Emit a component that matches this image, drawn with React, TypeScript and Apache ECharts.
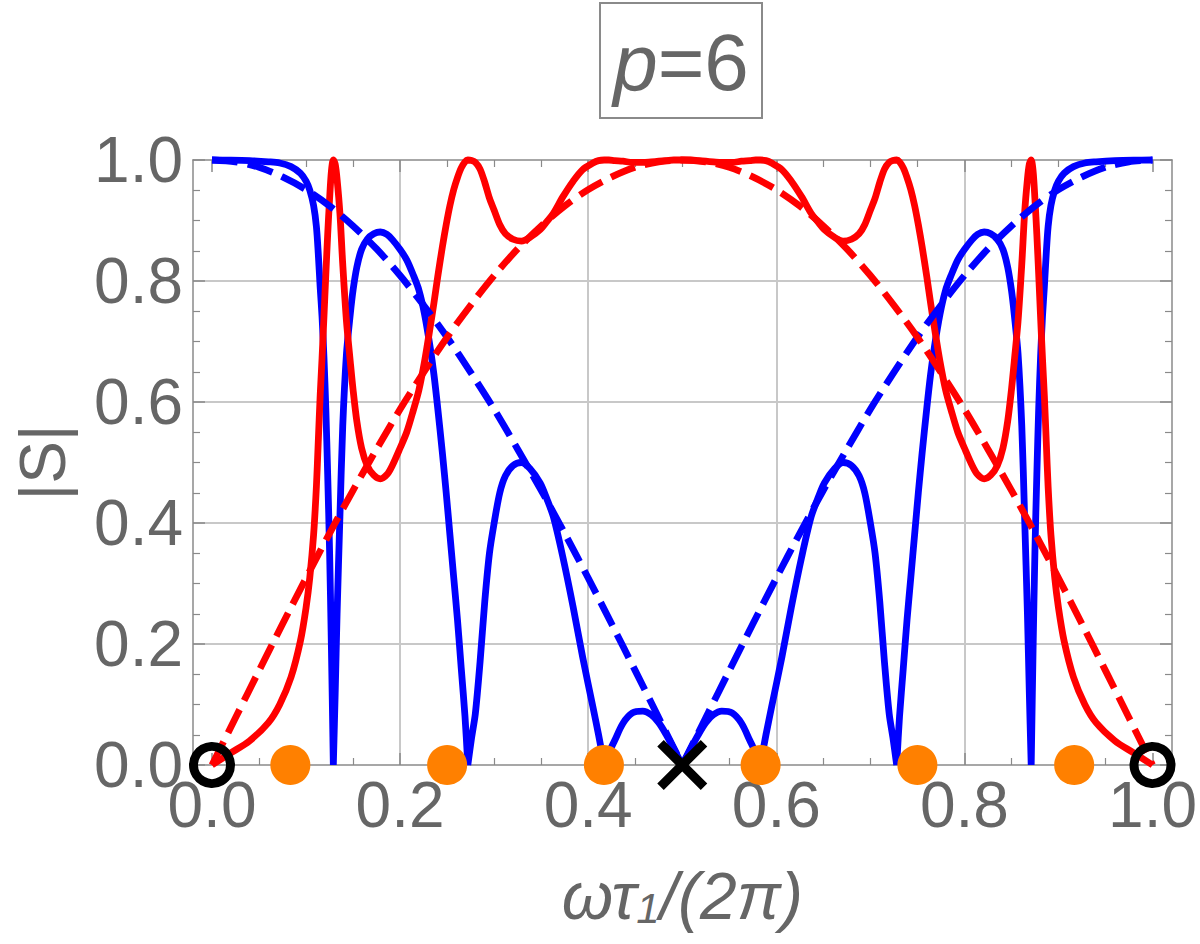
import React, { useEffect, useRef } from "react";
import * as echarts from "echarts";

// ---- data ----
const xSolid = [
  0, 0.02, 0.04, 0.06, 0.072, 0.084, 0.094, 0.1, 0.104, 0.108,
  0.111, 0.113, 0.115, 0.117, 0.119, 0.121, 0.123, 0.125, 0.127, 0.129,
  0.131, 0.133, 0.136, 0.139, 0.143, 0.147, 0.15, 0.154, 0.159, 0.165,
  0.172, 0.179, 0.186, 0.192, 0.2, 0.207, 0.214, 0.22, 0.226, 0.232,
  0.236, 0.24, 0.245, 0.249, 0.253, 0.257, 0.261, 0.265, 0.269, 0.272,
  0.276, 0.28, 0.285, 0.29, 0.295, 0.3, 0.306, 0.312, 0.32, 0.329,
  0.338, 0.349, 0.356, 0.363, 0.373, 0.384, 0.394, 0.405, 0.411, 0.417,
  0.422, 0.428, 0.437, 0.447, 0.458, 0.467, 0.475, 0.483, 0.491, 0.5,
  0.509, 0.517, 0.525, 0.533, 0.542, 0.553, 0.563, 0.572, 0.578, 0.583,
  0.589, 0.595, 0.606, 0.616, 0.627, 0.637, 0.644, 0.651, 0.662, 0.671,
  0.68, 0.688, 0.694, 0.7, 0.705, 0.71, 0.715, 0.72, 0.724, 0.728,
  0.731, 0.735, 0.739, 0.743, 0.747, 0.751, 0.755, 0.76, 0.764, 0.768,
  0.774, 0.78, 0.786, 0.793, 0.8, 0.808, 0.814, 0.821, 0.828, 0.835,
  0.841, 0.846, 0.85, 0.853, 0.857, 0.861, 0.864, 0.867, 0.869, 0.871,
  0.873, 0.875, 0.877, 0.879, 0.881, 0.883, 0.885, 0.887, 0.889, 0.892,
  0.896, 0.9, 0.906, 0.916, 0.928, 0.94, 0.96, 0.98, 1,
];

const blueSolid = [
  1, 0.9998, 0.999, 0.997, 0.995, 0.989, 0.978, 0.965, 0.95, 0.925,
  0.89, 0.845, 0.79, 0.741, 0.675, 0.59, 0.48, 0.355, 0.19, 0,
  0.12, 0.25, 0.41, 0.56, 0.68, 0.745, 0.785, 0.823, 0.852, 0.869,
  0.878, 0.881, 0.877, 0.868, 0.852, 0.835, 0.81, 0.785, 0.745, 0.69,
  0.645, 0.59, 0.515, 0.45, 0.38, 0.31, 0.24, 0.16, 0.08, 0,
  0.045, 0.085, 0.17, 0.27, 0.35, 0.4, 0.45, 0.478, 0.495, 0.5,
  0.49, 0.466, 0.44, 0.41, 0.344, 0.261, 0.179, 0.096, 0.05, 0,
  0.02, 0.04, 0.069, 0.086, 0.089, 0.083, 0.07, 0.05, 0.027, 0,
  0.027, 0.05, 0.07, 0.083, 0.089, 0.086, 0.069, 0.04, 0.02, 0,
  0.05, 0.096, 0.179, 0.261, 0.344, 0.41, 0.44, 0.466, 0.49, 0.5,
  0.495, 0.478, 0.45, 0.4, 0.35, 0.27, 0.17, 0.085, 0.045, 0,
  0.08, 0.16, 0.24, 0.31, 0.38, 0.45, 0.515, 0.59, 0.645, 0.69,
  0.745, 0.785, 0.81, 0.835, 0.852, 0.868, 0.877, 0.881, 0.878, 0.869,
  0.852, 0.823, 0.785, 0.745, 0.68, 0.56, 0.41, 0.25, 0.12, 0,
  0.19, 0.355, 0.48, 0.59, 0.675, 0.741, 0.79, 0.845, 0.89, 0.925,
  0.95, 0.965, 0.978, 0.989, 0.995, 0.997, 0.999, 0.9998, 1,
];

const redSolid = [
  0, 0.02, 0.04, 0.07, 0.1, 0.145, 0.205, 0.26, 0.31, 0.38,
  0.46, 0.535, 0.61, 0.672, 0.74, 0.81, 0.877, 0.935, 0.982, 1,
  0.993, 0.968, 0.912, 0.828, 0.733, 0.667, 0.62, 0.568, 0.524, 0.495,
  0.479, 0.473, 0.48, 0.496, 0.524, 0.55, 0.586, 0.62, 0.667, 0.724,
  0.764, 0.807, 0.857, 0.893, 0.925, 0.951, 0.971, 0.987, 0.997, 1,
  0.999, 0.996, 0.985, 0.963, 0.937, 0.917, 0.893, 0.878, 0.869, 0.866,
  0.872, 0.885, 0.898, 0.912, 0.939, 0.965, 0.984, 0.995, 0.999, 1,
  1, 0.999, 0.998, 0.996, 0.996, 0.997, 0.998, 0.999, 1, 1,
  1, 0.999, 0.998, 0.997, 0.996, 0.996, 0.998, 0.999, 1, 1,
  0.999, 0.995, 0.984, 0.965, 0.939, 0.912, 0.898, 0.885, 0.872, 0.866,
  0.869, 0.878, 0.893, 0.917, 0.937, 0.963, 0.985, 0.996, 0.999, 1,
  0.997, 0.987, 0.971, 0.951, 0.925, 0.893, 0.857, 0.807, 0.764, 0.724,
  0.667, 0.62, 0.586, 0.55, 0.524, 0.496, 0.48, 0.473, 0.479, 0.495,
  0.524, 0.568, 0.62, 0.667, 0.733, 0.828, 0.912, 0.968, 0.993, 1,
  0.982, 0.935, 0.877, 0.81, 0.74, 0.672, 0.61, 0.535, 0.46, 0.38,
  0.31, 0.26, 0.205, 0.145, 0.1, 0.07, 0.04, 0.02, 0,
];

const xDashed = [
  0, 0.025, 0.05, 0.075, 0.1, 0.125, 0.15, 0.175, 0.2, 0.225,
  0.25, 0.275, 0.3, 0.325, 0.35, 0.375, 0.4, 0.425, 0.45, 0.475,
  0.5, 0.525, 0.55, 0.575, 0.6, 0.625, 0.65, 0.675, 0.7, 0.725,
  0.75, 0.775, 0.8, 0.825, 0.85, 0.875, 0.9, 0.925, 0.95, 0.975, 1,
];

const blueDashed = [
  1, 0.997, 0.988, 0.972, 0.951, 0.924, 0.891, 0.853, 0.809, 0.76,
  0.707, 0.649, 0.588, 0.522, 0.454, 0.383, 0.309, 0.233, 0.156, 0.078,
  0, 0.078, 0.156, 0.233, 0.309, 0.383, 0.454, 0.522, 0.588, 0.649,
  0.707, 0.76, 0.809, 0.853, 0.891, 0.924, 0.951, 0.972, 0.988, 0.997, 1,
];

const redDashed = [
  0, 0.078, 0.156, 0.233, 0.309, 0.383, 0.454, 0.522, 0.588, 0.649,
  0.707, 0.76, 0.809, 0.853, 0.891, 0.924, 0.951, 0.972, 0.988, 0.997,
  1, 0.997, 0.988, 0.972, 0.951, 0.924, 0.891, 0.853, 0.809, 0.76,
  0.707, 0.649, 0.588, 0.522, 0.454, 0.383, 0.309, 0.233, 0.156, 0.078, 0,
];

const orangeDotsX = [0.0833, 0.25, 0.4167, 0.5833, 0.75, 0.9167];
const openCirclesX = [0, 1];
const crossX = [0.5];
const markerY = 0;

const yTicks = [0, 0.2, 0.4, 0.6, 0.8, 1.0];
const xTicks = [0, 0.2, 0.4, 0.6, 0.8, 1.0];

const FONT = '"Liberation Sans", Arial, Helvetica, sans-serif';
const TEXT = "#666666";
const FRAME = "#8a8a8a";
const GRIDC = "#c8c8c8";

const CROSS_PATH =
  "path://M0,1.3 L1.3,0 L5,3.7 L8.7,0 L10,1.3 L6.3,5 L10,8.7 L8.7,10 L5,6.3 L1.3,10 L0,8.7 L3.7,5 Z";

// split a curve into separately-smoothed pieces at its interior zeros (cusps)
function splitAtZeros(xs: number[], ys: number[]) {
  const out: any[] = [];
  for (let i = 0; i < xs.length; i++) {
    out.push([xs[i], ys[i]]);
    if (ys[i] === 0 && i > 0 && i < xs.length - 1) {
      out.push([xs[i], "-"]);
      out.push([xs[i], ys[i]]);
    }
  }
  return out;
}

export default function App() {
  const ref = useRef<HTMLDivElement>(null);

  useEffect(() => {
    if (!ref.current) return;
    const chart = echarts.init(ref.current, undefined, { renderer: "svg" });
    const zip = (xs: number[], ys: number[]) => xs.map((x, i) => [x, ys[i]]);
    const fmt = (v: number) => v.toFixed(1);

    const frameAxis = (pos: string) => ({
      gridIndex: 0,
      type: "value",
      min: -0.0202,
      max: 1.0202,
      position: pos,
      axisLine: { show: true, onZero: false, lineStyle: { color: FRAME, width: 1.5 } },
      axisTick: { show: false },
      axisLabel: { show: false },
      splitLine: { show: false },
    });

    const tickStyle = {
      show: true,
      inside: true,
      length: 12,
      lineStyle: { color: FRAME, width: 1.5 },
    };
    const minorStyle = {
      show: true,
      splitNumber: 4,
      length: 7,
      lineStyle: { color: FRAME, width: 1.2 },
    };

    const LW = 6.8;

    const option: any = {
      animation: false,
      backgroundColor: "#ffffff",
      grid: [
        { left: 193, top: 160, width: 979, height: 605 },
        { left: 212, top: 160, width: 941, height: 605 },
      ],
      xAxis: [
        frameAxis("bottom"),
        frameAxis("top"),
        {
          gridIndex: 1,
          type: "value",
          min: xTicks[0],
          max: xTicks[xTicks.length - 1],
          interval: 0.2,
          position: "bottom",
          axisLine: { show: false, onZero: false },
          axisTick: tickStyle,
          minorTick: minorStyle,
          axisLabel: {
            margin: 8,
            fontSize: 64,
            color: TEXT,
            fontFamily: FONT,
            formatter: fmt,
          },
          splitLine: {
            show: true,
            showMinLine: false,
            showMaxLine: false,
            lineStyle: { color: GRIDC, width: 2 },
          },
          name: "{a|ωτ}{b|1}{a|/(2π)}",
          nameLocation: "middle",
          nameGap: 98,
          nameTextStyle: {
            color: TEXT,
            fontFamily: FONT,
            fontSize: 66,
            fontStyle: "italic",
            rich: {
              a: { fontSize: 66, fontStyle: "italic", color: TEXT, fontFamily: FONT },
              b: {
                fontSize: 42,
                fontStyle: "italic",
                color: TEXT,
                fontFamily: FONT,
                verticalAlign: "bottom",
              },
            },
          },
        },
        {
          gridIndex: 1,
          type: "value",
          min: 0,
          max: 1,
          interval: 0.2,
          position: "top",
          axisLine: { show: false, onZero: false },
          axisTick: tickStyle,
          minorTick: minorStyle,
          axisLabel: { show: false },
          splitLine: { show: false },
        },
      ],
      yAxis: [
        {
          gridIndex: 0,
          type: "value",
          min: yTicks[0],
          max: yTicks[yTicks.length - 1],
          interval: 0.2,
          position: "left",
          axisLine: { show: true, onZero: false, lineStyle: { color: FRAME, width: 1.5 } },
          axisTick: tickStyle,
          minorTick: minorStyle,
          axisLabel: {
            margin: 10,
            fontSize: 64,
            color: TEXT,
            fontFamily: FONT,
            formatter: fmt,
          },
          splitLine: {
            show: true,
            showMinLine: false,
            showMaxLine: false,
            lineStyle: { color: GRIDC, width: 2 },
          },
          name: "|S|",
          nameLocation: "middle",
          nameRotate: 90,
          nameGap: 118,
          nameTextStyle: { color: TEXT, fontFamily: FONT, fontSize: 64 },
        },
        {
          gridIndex: 0,
          type: "value",
          min: 0,
          max: 1,
          interval: 0.2,
          position: "right",
          axisLine: { show: true, onZero: false, lineStyle: { color: FRAME, width: 1.5 } },
          axisTick: tickStyle,
          minorTick: minorStyle,
          axisLabel: { show: false },
          splitLine: { show: false },
        },
        {
          gridIndex: 1,
          type: "value",
          min: 0,
          max: 1,
          show: false,
        },
      ],
      graphic: [
        {
          type: "rect",
          shape: { x: 600, y: 3, width: 162, height: 115 },
          style: { fill: "#ffffff", stroke: "#8a8a8a", lineWidth: 2 },
          z: 100,
        },
        {
          type: "text",
          x: 681,
          y: 62,
          z: 101,
          style: {
            text: "{i|p}=6",
            fill: TEXT,
            font: `80px ${FONT}`,
            fontSize: 80,
            fontFamily: FONT,
            align: "center",
            verticalAlign: "middle",
            rich: {
              i: { fontSize: 80, fontFamily: FONT, fontStyle: "italic", fill: TEXT },
            },
          },
        },
      ],
      series: [
        {
          name: "blue solid",
          type: "line",
          xAxisIndex: 2,
          yAxisIndex: 2,
          data: splitAtZeros(xSolid, blueSolid),
          showSymbol: false,
          connectNulls: false,
          smooth: 0.3,
          clip: false,
          z: 3,
          lineStyle: { color: "#0000ff", width: LW, join: "round" },
        },
        {
          name: "red solid",
          type: "line",
          xAxisIndex: 2,
          yAxisIndex: 2,
          data: zip(xSolid, redSolid),
          showSymbol: false,
          smooth: 0.3,
          clip: false,
          z: 4,
          lineStyle: { color: "#ff0000", width: LW, join: "round" },
        },
        {
          name: "blue dashed",
          type: "line",
          xAxisIndex: 2,
          yAxisIndex: 2,
          data: splitAtZeros(xDashed, blueDashed),
          showSymbol: false,
          connectNulls: false,
          smooth: 0.3,
          clip: false,
          z: 5,
          lineStyle: { color: "#0000ff", width: LW, type: [26, 10], cap: "butt" },
        },
        {
          name: "red dashed",
          type: "line",
          xAxisIndex: 2,
          yAxisIndex: 2,
          data: zip(xDashed, redDashed),
          showSymbol: false,
          smooth: 0.3,
          clip: false,
          z: 6,
          lineStyle: { color: "#ff0000", width: LW, type: [26, 10], cap: "butt" },
        },
        {
          name: "orange",
          type: "scatter",
          xAxisIndex: 2,
          yAxisIndex: 2,
          data: orangeDotsX.map((x) => [x, markerY]),
          symbol: "circle",
          symbolSize: 40,
          clip: false,
          z: 10,
          itemStyle: { color: "#ff8000", opacity: 1 },
        },
        {
          name: "open",
          type: "scatter",
          xAxisIndex: 2,
          yAxisIndex: 2,
          data: openCirclesX.map((x) => [x, markerY]),
          symbol: "circle",
          symbolSize: 37,
          clip: false,
          z: 11,
          itemStyle: {
            color: "rgba(0,0,0,0)",
            borderColor: "#000000",
            borderWidth: 9,
            opacity: 1,
          },
        },
        {
          name: "cross",
          type: "scatter",
          xAxisIndex: 2,
          yAxisIndex: 2,
          data: crossX.map((x) => [x, markerY]),
          symbol: CROSS_PATH,
          symbolSize: 50,
          clip: false,
          z: 12,
          itemStyle: { color: "#000000", opacity: 1 },
        },
      ],
    };

    chart.setOption(option);
    return () => chart.dispose();
  }, []);

  return (
    <div
      ref={ref}
      style={{ position: "absolute", left: 0, top: 0, width: 1200, height: 944, background: "#fff" }}
    />
  );
}
